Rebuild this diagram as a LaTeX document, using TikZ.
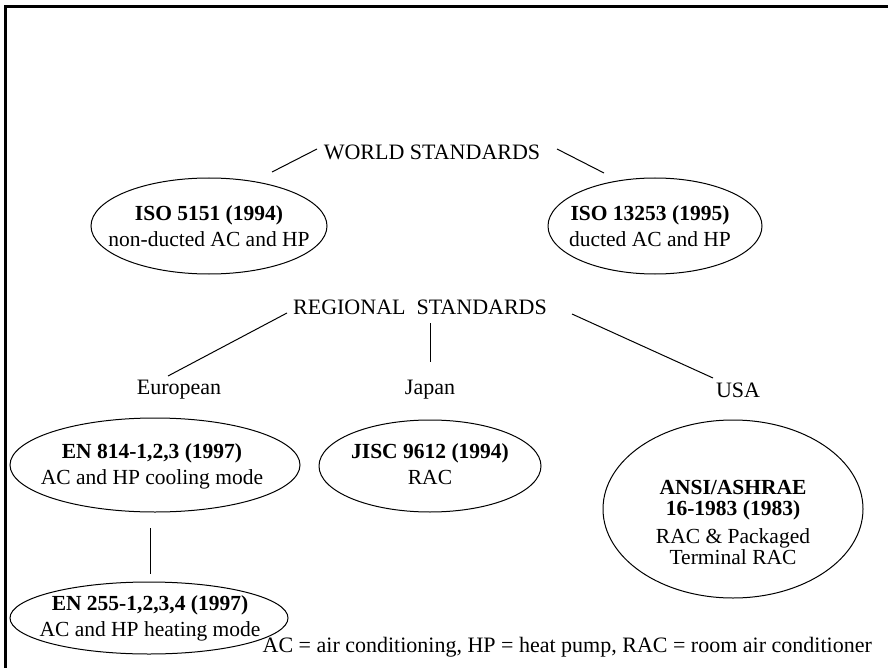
\documentclass[tikz,border=0pt]{standalone}
\usepackage{fontspec}
\setmainfont{Liberation Serif}
\usetikzlibrary{shapes.geometric}
\begin{document}
\begin{tikzpicture}[x=1pt,y=-1pt,
  lbl/.style={font=\fontsize{22}{26}\selectfont, inner sep=0pt},
  std/.style={ellipse, draw, line width=1pt, inner sep=0pt},
  txt/.style={inner sep=0pt, align=center, font=\fontsize{21.5}{26}\selectfont},
  conn/.style={line width=1pt}]
\useasboundingbox (0,0) rectangle (888,668);
\draw[line width=3pt] (5,668) -- (5,7) -- (888,7);

\node[lbl] (world) at (432,152) {WORLD STANDARDS};
\node[std, minimum width=236, minimum height=96] (iso5151) at (209,226) {};
\node[txt] (iso5151t) at (209,226) {\textbf{ISO 5151 (1994)}\\non-ducted AC and HP};
\node[std, minimum width=214, minimum height=96] (iso13253) at (655,226) {};
\node[txt] (iso13253t) at (650,226) {\textbf{ISO 13253 (1995)}\\ducted AC and HP};

\node[lbl] (regional) at (420,307) {REGIONAL\ \ STANDARDS};
\node[lbl] (europe) at (179,390) {European};
\node[lbl] (japan) at (430,390) {Japan};
\node[lbl] (usa) at (738,390) {USA};

\node[std, minimum width=290, minimum height=94] (en814) at (155,465) {};
\node[txt] (en814t) at (152,466) {\textbf{EN 814-1,2,3 (1997)}\\AC and HP cooling mode};
\node[std, minimum width=222, minimum height=92] (jisc) at (430,466) {};
\node[txt] (jisct) at (430,464) {\textbf{JISC 9612 (1994)}\\RAC};
\node[std, minimum width=260, minimum height=178] (ansi) at (733,509) {};
\node[txt, font=\fontsize{21.5}{21}\selectfont] (ansit) at (733,522)
  {\textbf{ANSI/ASHRAE}\\\textbf{16-1983 (1983)}\\[7pt]RAC \& Packaged\\Terminal RAC};
\node[std, minimum width=278, minimum height=72] (en255) at (149,618) {};
\node[txt] (en255t) at (150,618) {\textbf{EN 255-1,2,3,4 (1997)}\\AC and HP heating mode};

\node[lbl, anchor=east] (note) at (872,647)
  {AC = air conditioning, HP = heat pump, RAC = room air conditioner};

\coordinate (w1) at (272,172); \coordinate (w2) at (317,149);
\coordinate (w3) at (557,149); \coordinate (w4) at (604,173);
\draw[conn] (w1) -- (w2);
\draw[conn] (w3) -- (w4);

\coordinate (r1) at (287,313); \coordinate (r2) at (168,376);
\coordinate (r3) at (430,323); \coordinate (r4) at (430,362);
\coordinate (r5) at (572,314); \coordinate (r6) at (713,378);
\draw[conn] (r1) -- (r2);
\draw[conn] (r3) -- (r4);
\draw[conn] (r5) -- (r6);

\coordinate (e1) at (150,528); \coordinate (e2) at (150,574);
\draw[conn] (e1) -- (e2);
\end{tikzpicture}
\end{document}
